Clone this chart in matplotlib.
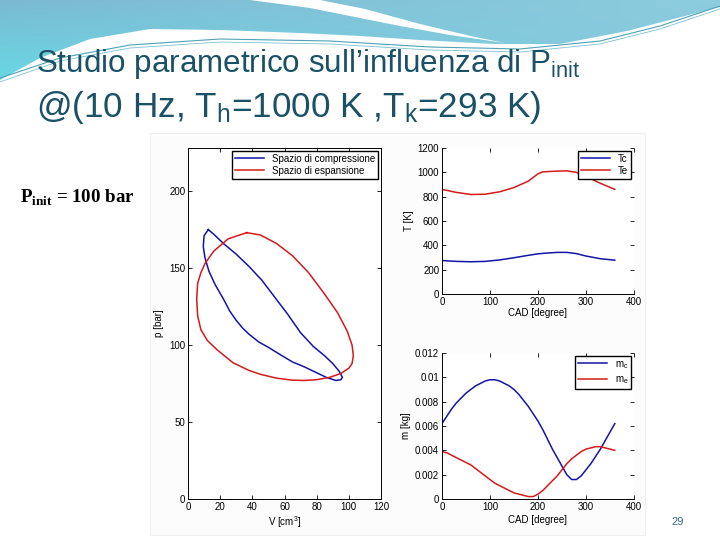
import matplotlib.pyplot as plt
import numpy as np
from matplotlib.patches import Polygon, Rectangle

plt.rcParams['font.family'] = ['Liberation Sans', 'DejaVu Sans']
plt.rcParams['mathtext.fontset'] = 'custom'
plt.rcParams['mathtext.rm'] = 'Liberation Sans'
plt.rcParams['mathtext.it'] = 'Liberation Sans:italic'
plt.rcParams['mathtext.bf'] = 'Liberation Serif:bold'

# p-V loops (V in cm3, p in bar)
comp_V = [12.6, 16, 22, 30, 38, 46, 54, 62, 70, 78, 85, 90, 94, 96, 95, 92, 86, 80, 72, 65,
          57, 50, 44, 38, 34, 30, 26, 22, 17, 13, 10.5, 9.5, 10, 12.6]
comp_p = [175, 172, 166, 159, 151, 142, 131, 120, 108, 99, 93, 88, 83, 79, 77.5, 77, 79, 82, 86, 89,
          94, 98.5, 102, 107, 111, 116, 122, 130, 139, 148, 157, 164, 171, 175]
esp_V = [36.5, 45, 55, 65, 75, 85, 93, 99, 102, 102.8, 102, 100, 95, 88, 80, 72, 65, 55, 45, 38,
         28, 18, 12, 8, 6, 5.4, 6, 8, 10.6, 16, 25, 36.5]
esp_p = [173, 171.5, 166, 158, 147, 133, 121, 109, 100, 93, 88, 85, 81.5, 79, 77.5, 77, 77.2, 78.5, 81, 83.5,
         88.5, 97, 103, 110, 119, 130, 140, 147, 153, 161, 169, 173]

# temperatures vs crank angle
cad_T = [0, 30, 60, 90, 120, 150, 180, 200, 210, 240, 260, 280, 300, 330, 360]
Te = [860, 835, 818, 820, 840, 875, 928, 988, 1004, 1010, 1012, 1000, 965, 910, 860]
Tc = [275, 268, 265, 268, 280, 298, 318, 330, 334, 342, 342, 332, 312, 290, 278]

# masses vs crank angle
cad_m = [0, 10, 20, 30, 40, 50, 60, 70, 80, 90, 100, 110, 120, 130, 140, 150, 160, 170, 180,
         190, 200, 210, 220, 230, 240, 250, 260, 270, 280, 290, 300, 310, 320, 330, 340, 350, 360]
mc = [0.0062, 0.0068, 0.0074, 0.0079, 0.0083, 0.0087, 0.0090, 0.0093, 0.0095, 0.0097, 0.0098,
      0.0098, 0.0097, 0.0095, 0.0093, 0.0090, 0.0086, 0.0081, 0.0076, 0.0070, 0.0064, 0.0057,
      0.0049, 0.0041, 0.0034, 0.0027, 0.0020, 0.0016, 0.0016, 0.0019, 0.0024, 0.0029, 0.0035,
      0.0041, 0.0048, 0.0055, 0.0062]
me = [0.0039, 0.0038, 0.0036, 0.0034, 0.0032, 0.0030, 0.0028, 0.0025, 0.0022, 0.0019, 0.0016,
      0.0013, 0.0011, 0.0009, 0.0007, 0.0005, 0.0004, 0.0003, 0.0002, 0.0002, 0.0004, 0.0007,
      0.0011, 0.0015, 0.0019, 0.0024, 0.0029, 0.0033, 0.0036, 0.0039, 0.0041, 0.0042, 0.0043,
      0.0043, 0.0042, 0.0041, 0.0040]

blue = '#1414a8'
red = '#d41a1a'
title_col = '#1a5166'

fig = plt.figure(figsize=(7.2, 5.4), dpi=100)

# slide background / header decoration
bg = fig.add_axes([0, 0, 1, 1], zorder=-5)
bg.set_xlim(0, 720)
bg.set_ylim(540, 0)
bg.axis('off')
gx, gy = np.meshgrid(np.linspace(0, 1, 200), np.linspace(0, 1, 60))
c_top = np.array([0.48, 0.73, 0.82])
c_left = np.array([0.40, 0.86, 0.91])
c_right = np.array([0.60, 0.85, 0.91])
w_low = (gy * (1 - gx))[..., None]
w_right = (gx * (1 - 0.3 * gy))[..., None]
img = c_top * (1 - w_low - 0.6 * w_right) + c_left * w_low + c_right * 0.6 * w_right
img = np.clip(img, 0, 1)
edge = [(720, 7), (693, 14), (627, 31), (560, 44), (493, 44), (420, 40), (360, 36), (300, 33),
        (220, 30), (150, 29), (90, 39), (40, 58), (0, 80)]
band = Polygon([(0, 0), (720, 0)] + edge, closed=True, facecolor='none', edgecolor='none')
bg.add_patch(band)
im = bg.imshow(img, extent=[0, 720, 90, 0], aspect='auto', zorder=0)
im.set_clip_path(band)
swoosh = [(320, 0), (365, 9), (420, 24), (475, 37), (505, 43), (450, 35), (400, 26),
          (360, 18), (310, 8), (250, 0)]
bg.add_patch(Polygon(swoosh, closed=True, facecolor='white', edgecolor='none', zorder=1))
bg.plot([0, 60, 130, 220, 330, 430, 520, 600, 660, 720],
        [78, 58, 45, 39, 41, 47, 49, 41, 26, 6], color='#4fa3b4', lw=0.8, zorder=2)
bg.plot([0, 60, 130, 220, 330, 430, 520, 600, 660, 720],
        [82, 61, 48, 42, 44, 50, 52, 44, 29, 9], color='#7cc3d0', lw=0.6, zorder=2)
bg.add_patch(Rectangle((150, 133), 495, 402, facecolor='#fcfcfc', edgecolor='#f0f0f0', lw=0.8, zorder=1))

fig.text(36, 540 - 72, 'Studio parametrico sull’influenza di P$_\\mathrm{init}$',
         transform=None, fontsize=22.6, color=title_col, va='baseline')
fig.text(36, 540 - 117, '@(10 Hz, T$_\\mathrm{h}$=1000 K ,T$_\\mathrm{k}$=293 K)',
         transform=None, fontsize=25.3, color=title_col, va='baseline')
fig.text(20, 540 - 202, 'P$_\\mathbf{init}$ = 100 bar', transform=None,
         fontsize=13.6, family='Liberation Serif', weight='bold', va='baseline')
fig.text(678, 540 - 525, '29', transform=None, fontsize=8, color='#3a6a80', ha='center')


def style(ax, box):
    ax.tick_params(direction='in', labelsize=7, length=3, width=0.6,
                   top=True, right=True, pad=2)
    for s in ax.spines.values():
        s.set_linewidth(0.7)
    if not box:
        ax.spines['top'].set_visible(False)
        ax.spines['right'].set_visible(False)


# p-V diagram
ax1 = fig.add_axes([188 / 720, 41 / 540, 193 / 720, 351 / 540])
ax1.plot(comp_V, comp_p, color=blue, lw=1.1, label='Spazio di compressione')
ax1.plot(esp_V, esp_p, color=red, lw=1.1, label='Spazio di espansione')
ax1.set_xlim(0, 120)
ax1.set_ylim(0, 228)
ax1.set_xticks(np.arange(0, 121, 20))
ax1.set_yticks(np.arange(0, 201, 50))
ax1.set_xlabel('V [cm$^3$]', fontsize=7, labelpad=2)
ax1.set_ylabel('p [bar]', fontsize=7, labelpad=4)
style(ax1, True)
ax1.legend(loc='upper right', fontsize=7, handlelength=3, fancybox=False, edgecolor='black',
           framealpha=1, borderaxespad=0.3, borderpad=0.3, labelspacing=0.2)

# temperatures
ax2 = fig.add_axes([442 / 720, 246 / 540, 192 / 720, 146 / 540])
ax2.plot(cad_T, Tc, color=blue, lw=1.1, label='Tc')
ax2.plot(cad_T, Te, color=red, lw=1.1, label='Te')
ax2.set_xlim(0, 400)
ax2.set_ylim(0, 1200)
ax2.set_xticks(np.arange(0, 401, 100))
ax2.set_yticks(np.arange(0, 1201, 200))
ax2.set_xlabel('CAD [degree]', fontsize=7, labelpad=1)
ax2.set_ylabel('T [K]', fontsize=7, labelpad=3)
style(ax2, False)
ax2.legend(loc='upper right', fontsize=7, handlelength=3, fancybox=False, edgecolor='black',
           framealpha=1, borderaxespad=0.3, borderpad=0.3, labelspacing=0.2)

# masses
ax3 = fig.add_axes([442 / 720, 41 / 540, 192 / 720, 146 / 540])
ax3.plot(cad_m, mc, color=blue, lw=1.1, label='m$_\\mathrm{c}$')
ax3.plot(cad_m, me, color=red, lw=1.1, label='m$_\\mathrm{e}$')
ax3.set_xlim(0, 400)
ax3.set_ylim(0, 0.012)
ax3.set_xticks(np.arange(0, 401, 100))
ax3.set_yticks([0, 0.002, 0.004, 0.006, 0.008, 0.01, 0.012])
ax3.set_yticklabels(['0', '0.002', '0.004', '0.006', '0.008', '0.01', '0.012'])
ax3.set_xlabel('CAD [degree]', fontsize=7, labelpad=2)
ax3.set_ylabel('m [kg]', fontsize=7, labelpad=3)
style(ax3, False)
ax3.legend(loc='upper right', fontsize=7, handlelength=3, fancybox=False, edgecolor='black',
           framealpha=1, borderaxespad=0.3, borderpad=0.3, labelspacing=0.4)

fig.savefig('out.png', dpi=100)
